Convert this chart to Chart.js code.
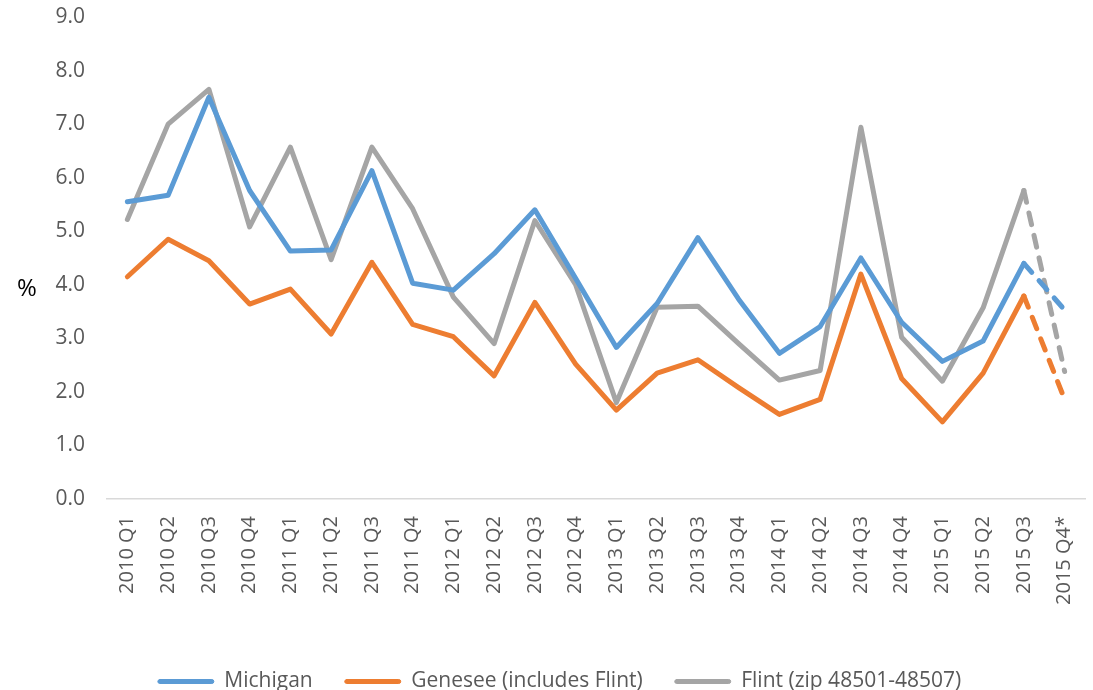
<!DOCTYPE html>
<html>
<head>
<meta charset="utf-8">
<script src="https://cdn.jsdelivr.net/npm/chart.js@4.4.1/dist/chart.umd.min.js"></script>
<style>
  html, body { margin: 0; padding: 0; background: #ffffff; }
  #wrap { position: relative; width: 1093px; height: 690px; overflow: hidden; }
  #pct { position: absolute; left: 17px; top: 271px; font: 24px "Open Sans", sans-serif; color: #000; line-height: 32px; }
</style>
</head>
<body>
<div id="wrap">
  <canvas id="c" width="1093" height="690"></canvas>
  <div id="pct">%</div>
</div>
<script>
const categories = ['2010 Q1','2010 Q2','2010 Q3','2010 Q4','2011 Q1','2011 Q2','2011 Q3','2011 Q4',
  '2012 Q1','2012 Q2','2012 Q3','2012 Q4','2013 Q1','2013 Q2','2013 Q3','2013 Q4',
  '2014 Q1','2014 Q2','2014 Q3','2014 Q4','2015 Q1','2015 Q2','2015 Q3','2015 Q4*'];
const michigan = [5.55, 5.67, 7.5, 5.76, 4.63, 4.65, 6.13, 4.03, 3.9, 4.58, 5.4, 4.12,
  2.83, 3.65, 4.88, 3.73, 2.72, 3.22, 4.5, 3.3, 2.57, 2.95, 4.4, 3.53];
const genesee = [4.15, 4.85, 4.45, 3.64, 3.92, 3.08, 4.42, 3.26, 3.03, 2.3, 3.67, 2.52,
  1.66, 2.35, 2.6, 2.08, 1.58, 1.86, 4.2, 2.25, 1.44, 2.35, 3.79, 1.86];
const flint = [5.22, 7.0, 7.65, 5.08, 6.57, 4.47, 6.57, 5.42, 3.77, 2.9, 5.2, 4.0,
  1.8, 3.58, 3.6, 2.9, 2.22, 2.4, 6.94, 3.02, 2.2, 3.57, 5.76, 2.38];
const seriesNames = ['Michigan', 'Genesee (includes Flint)', 'Flint (zip 48501-48507)'];
const seriesColors = ['#5B9BD5', '#ED7D31', '#A5A5A5'];
const yTicks = { min: 0, max: 9, step: 1 };
const projectedFrom = categories.length - 1;

const font = '"Open Sans", sans-serif';
function ds(name, data, color) {
  return {
    label: name, data: data,
    borderColor: color, backgroundColor: color,
    borderWidth: 5, pointRadius: 0, pointHoverRadius: 0, tension: 0,
    borderCapStyle: 'round', borderJoinStyle: 'round',
    segment: { borderDash: ctx => ctx.p1DataIndex === projectedFrom ? [12, 11] : undefined }
  };
}
new Chart(document.getElementById('c'), {
  type: 'line',
  data: {
    labels: categories,
    datasets: [ds(seriesNames[0], michigan, seriesColors[0]),
               ds(seriesNames[1], genesee, seriesColors[1]),
               ds(seriesNames[2], flint, seriesColors[2])]
  },
  options: {
    responsive: false, animation: false,
    layout: { autoPadding: false, padding: { left: 34, right: 8, top: 17, bottom: -12 } },
    plugins: {
      tooltip: { enabled: false },
      legend: {
        position: 'bottom',
        labels: {
          font: { family: font, size: 21 }, color: '#595959',
          boxWidth: 56, boxHeight: 4, padding: 32,
          useBorderRadius: true, borderRadius: 2,
          generateLabels: chart => Chart.defaults.plugins.legend.labels.generateLabels(chart)
            .map(it => Object.assign(it, { lineWidth: 1, lineDash: [] }))
        }
      }
    },
    scales: {
      x: {
        offset: true,
        grid: { display: false, drawTicks: false },
        border: { display: true, color: '#D9D9D9', width: 1.5 },
        ticks: { font: { family: font, size: 20 }, color: '#595959', maxRotation: 90, minRotation: 90, padding: 17, autoSkip: false },
        afterFit: s => { s.height = 140; s.paddingLeft = 0; s.paddingRight = 0; }
      },
      y: {
        min: yTicks.min, max: yTicks.max,
        grid: { display: false, drawTicks: false },
        border: { display: false },
        ticks: { stepSize: yTicks.step, font: { family: font, size: 21 }, color: '#595959', padding: 22,
                 callback: v => Number(v).toFixed(1) },
        afterFit: s => { s.width = 73; s.paddingTop = 0; s.paddingBottom = 0; }
      }
    }
  }
});
</script>
</body>
</html>
